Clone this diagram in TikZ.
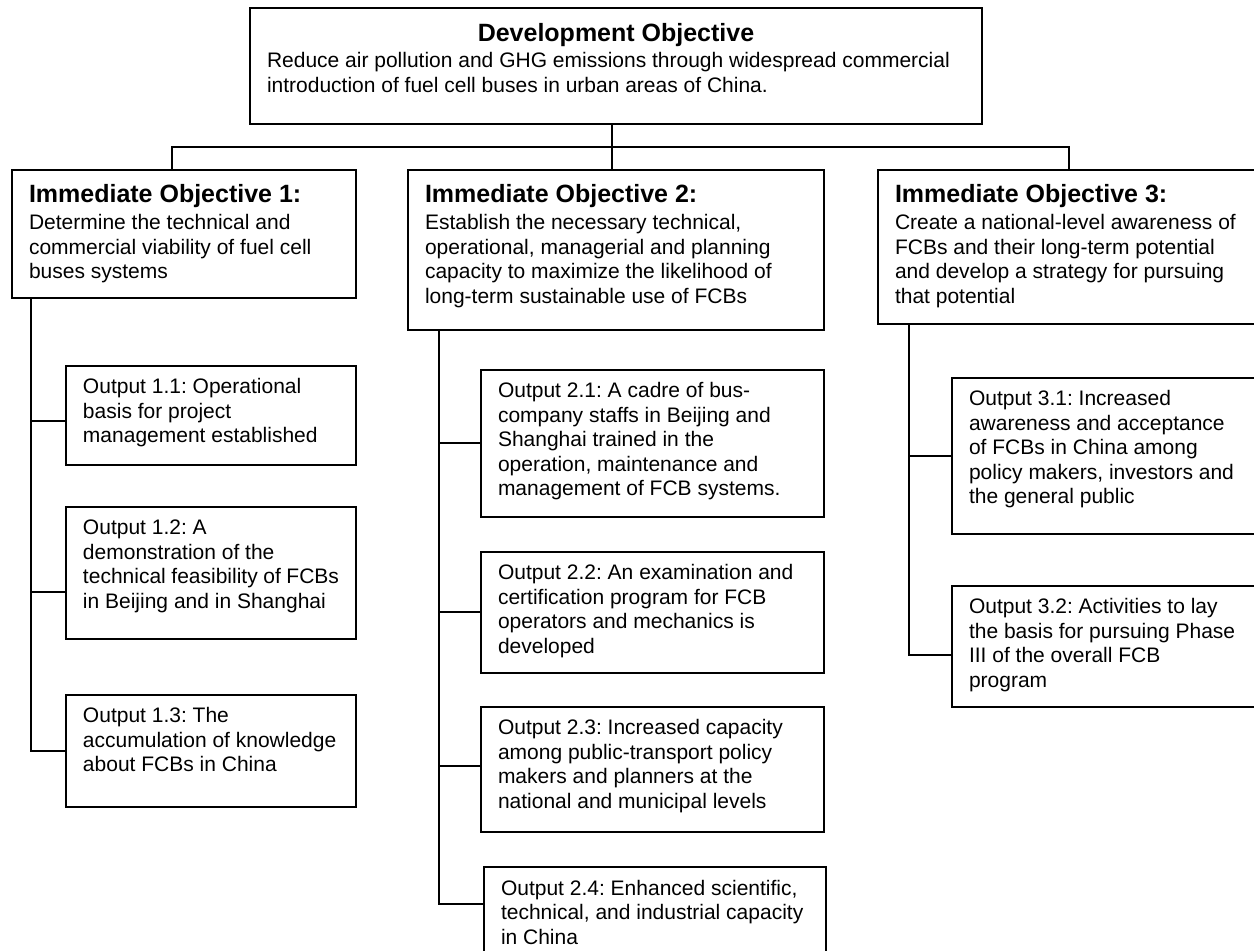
\documentclass[tikz,border=0pt]{standalone}
\usepackage{fontspec}
\setmainfont{Liberation Sans}
\usepackage{tikz}
\usetikzlibrary{calc}
\frenchspacing
% box with text set from the top: name, x, y, width, height, first baseline (all in px), text
\newcommand{\textbox}[7]{ \node[tbox] (#1) at (#2,#3) {\parbox[c][\dimexpr#5pt/2\relax][t]{\dimexpr#4pt/2-17pt\relax}{\raggedright\rule{0pt}{\dimexpr#6pt/2\relax}#7}};}
\newcommand{\headline}[1]{{\bfseries\fontsize{12.5}{14}\selectfont #1}}

\begin{document}
\begin{tikzpicture}[x=0.5pt, y=-0.5pt,
    tbox/.style={draw, line width=1pt, anchor=north west, inner xsep=8.5pt, inner ysep=0pt,
      font=\fontsize{10.5}{12.25}\selectfont},
    link/.style={line width=1pt}]
        \useasboundingbox (0,0) rectangle (1254,951);
        \clip (0,0) rectangle (1254,951);

        % development objective
        \textbox{dev}{249}{7}{732}{116}{34}{\makebox[\linewidth]{\headline{Development Objective}}\\[0.75pt]
          Reduce air pollution and GHG emissions through widespread commercial\\
          introduction of fuel cell buses in urban areas of China.}

        % immediate objectives
        \textbox{io1}{11}{169}{344}{128}{33}{\headline{Immediate Objective 1:}\\[1.25pt]
          Determine the technical and\\ commercial viability of fuel cell\\ buses systems}
        \textbox{io2}{407}{169}{416}{160}{33}{\headline{Immediate Objective 2:}\\[1.25pt]
          Establish the necessary technical,\\ operational, managerial and planning\\
          capacity to maximize the likelihood of\\ long-term sustainable use of FCBs}
        \textbox{io3}{877}{169}{385}{154}{33}{\headline{Immediate Objective 3:}\\[1.25pt]
          Create a national-level awareness of\\ FCBs and their long-term potential\\
          and develop a strategy for pursuing\\ that potential}

        % outputs 1
        \textbox{o11}{65}{365}{290}{99}{28}{Output 1.1: Operational\\ basis for project\\ management established}
        \textbox{o12}{65}{506}{290}{132}{28}{Output 1.2: A\\ demonstration of the\\ technical feasibility of FCBs\\ in Beijing and in Shanghai}
        \textbox{o13}{65}{694}{290}{112}{28}{Output 1.3: The\\ accumulation of knowledge\\ about FCBs in China}

        % outputs 2
        \textbox{o21}{480}{369}{343}{147}{28}{Output 2.1: A cadre of bus-\\ company staffs in Beijing and\\ Shanghai trained in the\\ operation, maintenance and\\ management of FCB systems.}
        \textbox{o22}{480}{551}{343}{121}{28}{Output 2.2: An examination and\\ certification program for FCB\\ operators and mechanics is\\ developed}
        \textbox{o23}{480}{706}{343}{125}{28}{Output 2.3: Increased capacity\\ among public-transport policy\\ makers and planners at the\\ national and municipal levels}
        \textbox{o24}{483}{866}{342}{110}{28}{Output 2.4: Enhanced scientific,\\ technical, and industrial capacity\\ in China}

        % outputs 3
        \textbox{o31}{951}{377}{311}{156}{28}{Output 3.1: Increased\\ awareness and acceptance\\ of FCBs in China among\\ policy makers, investors and\\ the general public}
        \textbox{o32}{951}{585}{311}{121}{28}{Output 3.2: Activities to lay\\ the basis for pursuing Phase\\ III of the overall FCB\\ program}

        % tree lines
        \coordinate (bar) at (611,147);
        \draw[link] ([xshift=-2pt]dev.south) -- ([xshift=-2pt]io2.north);
        \draw[link] ([xshift=80.5pt]io1.north west) |- (bar) -| ([xshift=96pt]io3.north west);

        \draw[link] ([xshift=10pt]io1.south west) |- ([yshift=-2.75pt]o11.west);
        \draw[link] ([xshift=10pt]io1.south west) |- ([yshift=-9.5pt]o12.west);
        \draw[link] ([xshift=10pt]io1.south west) |- (o13.west);

        \draw[link] ([xshift=16pt]io2.south west) |- (o21.west);
        \draw[link] ([xshift=16pt]io2.south west) |- (o22.west);
        \draw[link] ([xshift=16pt]io2.south west) |- ([yshift=1.75pt]o23.west);
        \draw[link] ([xshift=16pt]io2.south west) |- ([yshift=9pt]o24.west);

        \draw[link] ([xshift=16pt]io3.south west) |- (o31.west);
        \draw[link] ([xshift=16pt]io3.south west) |- ([yshift=-4.25pt]o32.west);
    \end{tikzpicture}
\end{document}
